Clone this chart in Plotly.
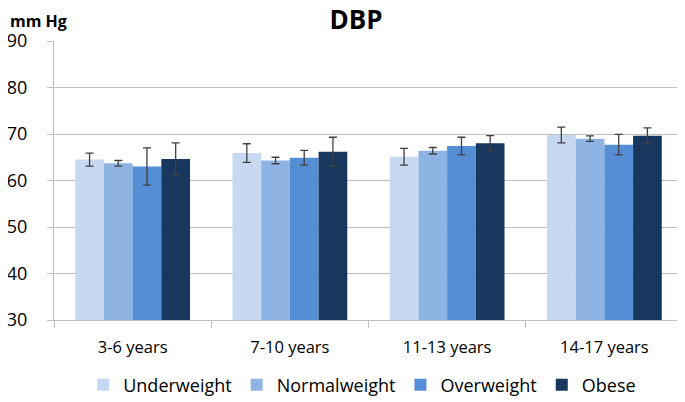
import plotly.graph_objects as go

# age groups and mean DBP (mm Hg) with error bars
age_groups = ["3-6 years", "7-10 years", "11-13 years", "14-17 years"]
groups = ["Underweight", "Normalweight", "Overweight", "Obese"]
colors = ["#c6d9f1", "#8eb4e3", "#558ed5", "#17375e"]

underweight = [64.5, 65.9, 65.1, 69.8]
underweight_err = [1.4, 2.0, 1.8, 1.7]
normalweight = [63.7, 64.3, 66.4, 69.0]
normalweight_err = [0.6, 0.7, 0.7, 0.6]
overweight = [63.0, 64.9, 67.4, 67.7]
overweight_err = [4.0, 1.6, 1.9, 2.2]
obese = [64.6, 66.2, 68.0, 69.6]
obese_err = [3.5, 3.1, 1.65, 1.7]

values = [underweight, normalweight, overweight, obese]
errors = [underweight_err, normalweight_err, overweight_err, obese_err]

font = "Open Sans"

fig = go.Figure()
for name, vals, errs, col in zip(groups, values, errors, colors):
    fig.add_trace(go.Bar(
        x=age_groups, y=vals, name=name,
        marker=dict(color=col, line=dict(width=0)),
        error_y=dict(type="data", array=errs, visible=True,
                     color="#404040", thickness=1.3, width=4),
    ))

# page body has an 8px margin, so the layout is shifted up/left by 8px
fig.update_layout(
    width=685, height=402,
    barmode="group", bargap=0.27, bargroupgap=0,
    plot_bgcolor="white", paper_bgcolor="white",
    margin=dict(l=46, r=10, t=33, b=90, autoexpand=False),
    font=dict(family=font, color="#000000"),
    title=dict(text="<b>DBP</b>", x=0.508, xanchor="center", y=0.992, yanchor="top",
               pad=dict(t=0, b=0), font=dict(size=26, family=font, color="#000000")),
    showlegend=True,
    legend=dict(orientation="h", x=0.49, xanchor="center", y=-0.233, yanchor="middle",
                font=dict(size=18, family=font), traceorder="normal",
                itemwidth=30),
)

fig.update_yaxes(range=[30, 90], dtick=10, showgrid=True, gridcolor="#bfbfbf", gridwidth=1.3,
                 showline=True, linecolor="#bfbfbf", linewidth=1.3,
                 ticks="outside", ticklen=6, tickcolor="#bfbfbf",
                 tickfont=dict(size=18, family=font), ticklabelstandoff=16,
                 zeroline=False)
fig.update_xaxes(showline=True, linecolor="#bfbfbf", linewidth=1.3,
                 ticks="outside", ticklen=7, tickcolor="#bfbfbf", tickson="boundaries",
                 tickfont=dict(size=16.5, family=font), ticklabelstandoff=12,
                 showgrid=False)

fig.add_annotation(text="<b>mm Hg</b>", xref="paper", yref="paper", x=-0.073, y=1.118,
                   xanchor="left", yanchor="top", showarrow=False,
                   font=dict(size=16, family=font))

fig.write_html("out.html")
